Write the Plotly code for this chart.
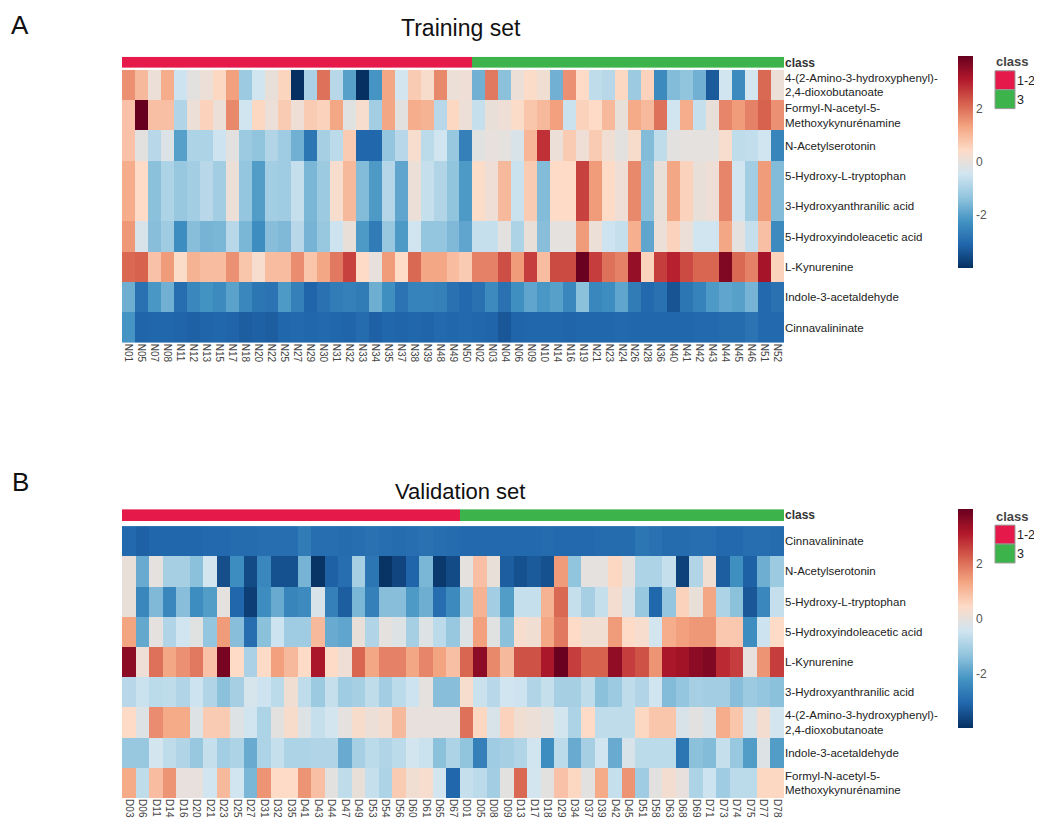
import plotly.graph_objects as go

# The page body has an 8px margin; the figure is laid out in window pixels minus it.
OX, OY = 8, 8
W, H = 1034, 822

# ---------------- DATA ----------------
metabolites_train = [
    "4-(2-Amino-3-hydroxyphenyl)-<br>2,4-dioxobutanoate",
    "Formyl-N-acetyl-5-<br>Methoxykynurénamine",
    "N-Acetylserotonin",
    "5-Hydroxy-L-tryptophan",
    "3-Hydroxyanthranilic acid",
    "5-Hydroxyindoleacetic acid",
    "L-Kynurenine",
    "Indole-3-acetaldehyde",
    "Cinnavalininate",
]
metabolites_val = [
    "Cinnavalininate",
    "N-Acetylserotonin",
    "5-Hydroxy-L-tryptophan",
    "5-Hydroxyindoleacetic acid",
    "L-Kynurenine",
    "3-Hydroxyanthranilic acid",
    "4-(2-Amino-3-hydroxyphenyl)-<br>2,4-dioxobutanoate",
    "Indole-3-acetaldehyde",
    "Formyl-N-acetyl-5-<br>Methoxykynurénamine",
]

train_samples = ["N01","N05","N07","N08","N11","N12","N13","N15","N17","N18",
                 "N20","N22","N25","N27","N29","N30","N31","N32","N33","N34",
                 "N35","N37","N38","N39","N48","N49","N50",
                 "N02","N03","N04","N06","N09","N10","N14","N16","N19","N21",
                 "N23","N24","N26","N28","N36","N40","N41","N42","N43","N44",
                 "N45","N46","N51","N52"]
train_class_counts = {"1-2": 27, "3": 24}

val_samples = ["D03","D06","D11","D14","D16","D20","D21","D23","D25","D27",
               "D31","D32","D35","D41","D43","D44","D47","D49","D53","D54",
               "D56","D60","D61","D65","D67",
               "D01","D05","D08","D09","D13","D17","D18","D29","D34","D37",
               "D39","D42","D45","D51","D58","D63","D68","D69","D71","D73",
               "D74","D75","D77","D78"]
val_class_counts = {"1-2": 25, "3": 24}

# Training set values (z-scores), columns in the order of train_samples
t_amino = [1.6, 1.0, 0.1, 1.2, -0.5, -0.1, 0.1, 0.5, 1.4, -1.2,
           -0.45, 0.05, 0.55, -4.0, -1.0, 2.0, -0.8, -2.0, -4.0, -2.2,
           1.3, -0.4, 0.7, 0.35, 1.7, 0.1, 0.15, -1.7, 1.9, -1.4,
           0.1, 0.4, 0.2, -1.7, 1.6, 0.45, -0.7, -0.8, 0.5, -1.2,
           0.6, -2.4, -1.5, -1.35, -1.7, -3.3, -0.45, -2.4, -0.4, 2.1,
           0.1]
t_formyl = [0.85, 4.0, 0.9, 0.9, -0.9, 0.1, 0.6, 0.1, 1.7, -0.45,
            0.5, 0.1, 0.7, 0.15, 0.7, 0.6, 1.3, -0.15, 0.3, -1.1,
            1.3, -0.1, 1.2, 1.1, -0.8, 0.5, 0.1, -0.6, 0.05, 0.15,
            0.4, 0.8, 1.0, 1.4, -0.55, 0.6, 0.45, 1.0, 0.05, 1.25,
            1.0, 2.0, -0.45, 1.2, -0.6, 0.05, 1.75, 1.45, 1.8, 2.2,
            1.6]
t_nacetyl = [0.85, -0.1, -0.8, -0.25, -2.0, -0.95, -0.95, -0.5, -0.1, -1.2,
             -1.35, -0.9, -1.15, -1.7, -2.8, -1.05, -0.75, 0.7, -3.1, -3.1,
             -1.3, -0.8, 0.3, -0.75, -0.45, -1.25, -2.6, -0.15, 0.0, -0.05,
             -0.3, 1.05, 2.8, 0.1, 0.7, 0.15, 0.7, 0.2, -0.1, 0.35,
             -1.5, -0.7, -0.1, -0.05, -0.05, -0.05, 0.3, -0.7, -0.65, -0.45,
             -2.5]
t_htp = [1.2, 0.45, -1.4, -0.95, -1.25, -1.1, -0.8, -1.1, 0.1, -1.3,
         -2.05, -1.1, -1.15, -0.6, -1.6, -1.2, 0.3, 1.0, -1.5, -2.1,
         -0.85, -1.9, 0.1, -0.6, -0.9, -1.35, -2.1, 0.4, 0.15, 1.0,
         -0.55, 0.7, -1.5, 0.45, 0.45, 2.6, 1.45, 0.45, 0.15, 1.7,
         -1.4, 0.05, 1.3, 0.6, 0.05, 0.15, 1.75, -0.45, -1.1, 1.45,
         -1.5]
t_haa = [1.2, 0.45, -1.4, -0.95, -1.25, -1.1, -0.8, -1.1, 0.1, -1.3,
         -2.05, -1.1, -1.15, -0.6, -1.6, -1.2, 0.3, 1.0, -1.5, -2.1,
         -0.85, -1.9, 0.1, -0.6, -0.9, -1.35, -2.1, 0.4, 0.15, 1.0,
         -0.55, 0.7, -1.5, 0.45, 0.45, 2.6, 1.45, 0.45, 0.15, 1.7,
         -1.4, 0.05, 1.3, 0.6, 0.05, 0.15, 1.75, -0.45, -1.1, 1.45,
         -1.5]
t_hiaa = [1.5, -0.3, -1.45, -1.15, -2.35, -1.45, -1.65, -1.6, -0.8, -1.6,
          -2.35, -1.45, -1.55, -0.8, -1.65, -1.25, -0.5, 0.05, -2.1, -2.7,
          -1.25, -2.1, -0.45, -1.3, -1.3, -1.55, -1.9, -0.6, -0.6, -0.1,
          -0.95, 0.05, -1.45, -0.05, -0.05, 1.45, 0.1, -0.5, -0.6, 1.15,
          -1.9, 0.1, 0.6, 0.1, -0.45, -0.45, 1.3, -0.05, -0.6, 0.9,
          -2.4]
t_kyn = [2.1, 2.2, 0.85, 1.45, 0.4, 1.1, 0.95, 0.95, 1.6, 0.8,
         0.3, 0.95, 0.95, 1.65, 0.8, 1.3, 1.9, 2.6, 0.45, 0.0,
         1.45, 0.45, 2.1, 1.3, 1.3, 0.95, 0.7, 1.8, 1.8, 2.45,
         1.45, 2.65, 0.95, 2.5, 2.5, 3.95, 2.65, 2.0, 1.8, 3.45,
         0.6, 2.65, 3.0, 2.5, 2.15, 2.15, 3.7, 2.1, 1.8, 3.25,
         0.6]
t_indole = [-1.75, -2.9, -2.15, -1.7, -2.95, -2.45, -2.25, -2.4, -1.95, -2.45,
            -2.8, -2.85, -2.1, -2.6, -3.15, -2.9, -2.7, -2.6, -2.7, -1.75,
            -2.3, -2.85, -2.55, -2.55, -2.6, -2.9, -3.05, -2.9, -2.4, -2.9,
            -2.3, -1.9, -2.15, -2.0, -2.45, -1.4, -2.45, -2.35, -1.9, -2.7,
            -3.05, -2.9, -3.4, -2.8, -2.55, -2.1, -1.9, -2.0, -1.65, -3.05,
            -2.9]
t_cinna = [-2.2, -3.15, -3.1, -3.1, -3.15, -3.2, -3.15, -3.1, -3.15, -3.25,
           -3.2, -3.25, -3.1, -3.05, -3.1, -3.05, -3.1, -3.15, -3.0, -3.2,
           -3.1, -3.15, -3.1, -3.15, -3.05, -3.1, -3.05, -3.1, -3.15, -3.35,
           -3.15, -3.1, -3.1, -3.1, -3.15, -3.1, -3.1, -3.1, -3.05, -3.1,
           -3.1, -3.1, -3.1, -3.1, -3.05, -3.05, -3.0, -3.0, -2.85, -3.05,
           -3.05]

# Validation set values, columns in the order of val_samples
v_cinna = [-3.05, -3.2, -3.1, -3.1, -3.1, -3.1, -3.05, -3.05, -3.0, -3.0,
           -2.95, -2.95, -2.95, -2.7, -2.95, -2.95, -3.0, -2.95, -2.9, -2.95,
           -3.0, -2.95, -2.9, -2.95, -3.0, -3.05, -3.05, -3.05, -3.05, -3.05,
           -3.05, -3.0, -3.05, -3.05, -3.05, -3.0, -3.0, -3.0, -2.8, -2.9,
           -3.0, -3.0, -2.95, -2.95, -3.05, -3.05, -2.95, -2.95, -3.0]
v_nacetyl = [0.05, -1.8, -0.05, -1.05, -1.05, -1.4, -0.4, -3.5, -2.35, -3.55,
             -2.45, -3.45, -3.45, -1.65, -3.95, -3.2, -2.95, -1.05, -2.8, -3.95,
             -3.65, -3.15, -1.6, -3.85, -3.55, -0.05, 0.9, 0.05, -3.25, -3.45,
             -3.3, -3.45, 1.45, -1.35, -0.05, -0.05, 0.5, -0.05, -0.95, -0.95,
             -0.6, -3.7, -0.9, 0.2, -3.25, -2.3, -3.2, -1.75, -1.2]
v_htp = [0.05, -2.45, -1.55, -2.45, -1.45, -2.35, -2.05, -0.05, -3.1, -3.75,
         -2.35, -1.8, -2.5, -2.4, -0.3, -2.6, -3.25, -1.6, -2.6, -1.45,
         -1.45, -2.1, -1.75, -2.95, -2.4, -1.2, 1.1, -1.1, -2.05, -0.6,
         -0.6, 1.1, 2.1, -0.6, -1.05, -0.6, 0.25, -0.3, -1.25, -3.1,
         -1.3, 0.6, 0.05, 1.3, -0.95, -1.4, -3.35, -2.45, -0.6]
v_hiaa = [1.35, -1.85, -0.05, -0.9, -0.45, -0.15, -1.3, 1.45, -1.45, -2.95,
          -1.4, -0.5, -1.15, -1.15, 1.0, -1.8, -1.9, 0.05, -0.9, -0.05,
          -0.2, -1.05, -0.2, -0.75, -1.25, -0.2, 1.4, -0.15, -1.4, 0.3,
          0.2, 1.3, 1.9, 0.45, 0.2, 0.2, 1.45, 0.45, 0.3, -0.4,
          1.2, 1.4, 1.5, 1.5, 0.75, 0.75, -2.35, -0.5, 0.45]
v_kyn = [3.55, 0.15, 2.0, 1.3, 1.6, 1.9, 0.85, 3.8, 0.45, -1.0,
         0.45, 1.4, 1.0, 0.45, 3.2, 0.45, 0.15, 2.15, 1.3, 1.8,
         1.8, 1.3, 1.75, 1.35, 0.9, 2.15, 3.55, 1.7, 1.0, 2.4,
         2.4, 3.2, 3.95, 2.65, 2.2, 2.2, 3.5, 2.65, 2.4, 1.55,
         3.2, 3.3, 3.55, 3.7, 2.9, 2.65, 0.0, 1.55, 2.65]
v_haa = [-0.8, -0.55, -0.75, -0.7, -0.9, -0.5, -0.9, -1.4, -1.05, -0.35,
         -0.5, -0.75, 0.2, -0.7, -1.2, -0.6, -1.15, -1.05, -0.7, -1.1,
         -0.75, -0.5, -0.05, -1.45, -1.45, 0.3, -0.55, -0.8, -0.45, -0.5,
         -0.9, -0.6, -1.05, -1.05, -0.7, -1.4, -1.2, -0.7, -0.9, -0.45,
         -1.5, -1.3, -1.05, -1.1, -1.1, -1.45, -1.2, -1.3, -1.4]
v_amino = [0.45, -0.2, 1.65, 1.25, 1.25, -0.2, 0.7, 0.7, -0.2, -0.45,
           -0.95, -0.1, 0.35, -0.2, -0.6, -0.4, -0.05, 0.35, 0.1, 0.25,
           1.0, 0.0, 0.0, 0.0, 0.0, 2.0, 0.5, -0.3, 0.6, 0.2,
           0.1, -0.05, -0.4, -0.95, 0.45, -0.7, -0.7, -0.7, 0.5, 0.8,
           0.8, -0.3, -0.1, -0.3, 1.2, 0.8, -0.3, 0.25, -0.4]
v_indole = [-1.25, -1.25, -0.4, -0.7, -0.9, -1.25, -0.6, -1.1, -0.95, -1.8,
            -0.95, -0.6, -0.95, -0.95, -0.9, -0.9, -1.8, -1.05, -0.75, -0.9,
            -0.75, -0.4, -0.55, -1.4, -0.95, -1.35, -2.6, -1.15, -1.05, -0.9,
            -0.45, -2.35, -0.75, -1.8, -1.05, -0.45, -1.8, -0.3, -0.75, -0.75,
            -0.75, -2.8, -1.4, -1.5, -0.6, -1.25, -2.05, -0.2, -2.05]
v_formyl = [1.25, -0.7, 0.95, 1.55, 0.0, 0.0, -0.45, 1.0, -0.45, -1.6,
            1.55, 0.45, 0.45, 1.55, 0.9, -0.1, -0.7, 0.05, -0.6, -0.95,
            0.7, 0.2, 0.3, -0.4, -3.1, -0.6, -0.75, -1.1, -0.1, 2.1,
            -0.4, -0.1, 0.85, 0.5, -0.1, 1.25, -0.6, 1.55, -1.15, -0.1,
            0.25, 0.0, -0.95, -0.5, -1.15, -0.75, -0.75, 0.5, 0.5]

train_matrix = [t_amino, t_formyl, t_nacetyl, t_htp, t_haa, t_hiaa, t_kyn, t_indole, t_cinna]
val_matrix = [v_cinna, v_nacetyl, v_htp, v_hiaa, v_kyn, v_haa, v_amino, v_indole, v_formyl]

class_colors = {"1-2": "#E6194B", "3": "#3CB44B"}
heat_colors = ["#053061", "#2166AC", "#4393C3", "#92C5DE", "#D1E5F0",
               "#FDDBC7", "#F4A582", "#D6604D", "#B2182B", "#67001F"]
ZMIN, ZMAX = -4, 4

# ---------------- FIGURE ----------------
FONT = "Liberation Sans, Arial, sans-serif"
heat_scale = [[i / (len(heat_colors) - 1), c] for i, c in enumerate(heat_colors)]
class_scale = [[0, class_colors["1-2"]], [0.5, class_colors["1-2"]],
               [0.5, class_colors["3"]], [1, class_colors["3"]]]


def fx(px):
    return (px - OX) / W


def fy(py):
    return 1 - (py - OY) / H


def class_codes(counts):
    codes = []
    for i, (k, n) in enumerate(counts.items()):
        codes += [i] * n
    return codes


fig = go.Figure()

panels = [
    dict(samples=train_samples, counts=train_class_counts, matrix=train_matrix,
         labels=metabolites_train, bar=(56, 67), heat=(69, 343), cb=(55, 268),
         n=1),
    dict(samples=val_samples, counts=val_class_counts, matrix=val_matrix,
         labels=metabolites_val, bar=(510, 522), heat=(527, 800), cb=(510, 730),
         n=3),
]

layout_axes = {}
for p in panels:
    bx, by = f"x{p['n'] if p['n'] > 1 else ''}", f"y{p['n'] if p['n'] > 1 else ''}"
    hx, hy = f"x{p['n'] + 1}", f"y{p['n'] + 1}"
    fig.add_trace(go.Heatmap(
        x=p["samples"], y=["class"], z=[class_codes(p["counts"])],
        colorscale=class_scale, zmin=0, zmax=1, showscale=False,
        xaxis=bx, yaxis=by, hoverinfo="skip"))
    fig.add_trace(go.Heatmap(
        x=p["samples"], y=list(range(len(p["labels"]))), z=p["matrix"],
        colorscale=heat_scale, zmin=ZMIN, zmax=ZMAX,
        xaxis=hx, yaxis=hy,
        colorbar=dict(x=fx(958), xanchor="left", y=fy(p["cb"][0]), yanchor="top",
                      len=(p["cb"][1] - p["cb"][0]) / H, lenmode="fraction",
                      thickness=15, thicknessmode="pixels", outlinewidth=0,
                      xpad=0, ypad=0, tickvals=[-2, 0, 2], ticktext=["-2", "0", "2"],
                      ticks="", tickfont=dict(size=12, color="#555", family=FONT))))

    xdom = [fx(122), fx(784)]
    key_bx = "xaxis" if p["n"] == 1 else f"xaxis{p['n']}"
    key_by = "yaxis" if p["n"] == 1 else f"yaxis{p['n']}"
    layout_axes[key_bx] = dict(domain=xdom, anchor=by, showticklabels=False, ticks="",
                               showgrid=False, zeroline=False, showline=False)
    layout_axes[key_by] = dict(domain=[fy(p["bar"][1]), fy(p["bar"][0])], anchor=bx,
                               side="right", ticks="", showgrid=False, zeroline=False,
                               tickvals=["class"], ticktext=["<b>class</b>"],
                               tickfont=dict(size=12, color="#333", family=FONT))
    layout_axes[f"xaxis{p['n'] + 1}"] = dict(domain=xdom, anchor=hy, tickangle=90, ticks="",
                                             tickmode="array", tickvals=p["samples"],
                                             ticktext=p["samples"],
                                             showgrid=False, zeroline=False,
                                             tickfont=dict(size=10, color="#444", family=FONT))
    layout_axes[f"yaxis{p['n'] + 1}"] = dict(domain=[fy(p["heat"][1]), fy(p["heat"][0])],
                                             anchor=hx, side="right", ticks="",
                                             showgrid=False, zeroline=False,
                                             autorange="reversed",
                                             tickvals=list(range(len(p["labels"]))),
                                             ticktext=p["labels"],
                                             tickfont=dict(size=11.5, color="#222", family=FONT))

annotations = [
    dict(text="A", x=fx(20), y=fy(24), size=26),
    dict(text="Training set", x=fx(461), y=fy(27), size=23),
    dict(text="B", x=fx(20), y=fy(483), size=26),
    dict(text="Validation set", x=fx(460), y=fy(492), size=22),
]
ann_list = [dict(text=a["text"], x=a["x"], y=a["y"], xref="paper", yref="paper",
                 showarrow=False, xanchor="center", yanchor="middle",
                 font=dict(size=a["size"], color="#111", family=FONT))
            for a in annotations]

shapes = []
for top in (70, 526):
    ann_list.append(dict(text="<b>class</b>", x=fx(994), y=fy(top - 9), xref="paper", yref="paper",
                         showarrow=False, xanchor="left", yanchor="middle",
                         font=dict(size=13, color="#444", family=FONT)))
    for i, (k, c) in enumerate(class_colors.items()):
        y0 = top + 19 * i
        shapes.append(dict(type="rect", xref="paper", yref="paper",
                           x0=fx(995), x1=fx(1015), y0=fy(y0 + 19), y1=fy(y0),
                           fillcolor=c, line=dict(color="#999", width=1)))
        ann_list.append(dict(text=k, x=fx(1016), y=fy(y0 + 10), xref="paper", yref="paper",
                             showarrow=False, xanchor="left", yanchor="middle",
                             borderpad=0,
                             font=dict(size=12.5, color="#222", family=FONT)))

fig.update_layout(
    width=W, height=H, margin=dict(l=0, r=0, t=0, b=0),
    paper_bgcolor="white", plot_bgcolor="white",
    font=dict(family=FONT),
    annotations=ann_list, shapes=shapes, showlegend=False,
    **layout_axes,
)

fig.write_html("out.html")
